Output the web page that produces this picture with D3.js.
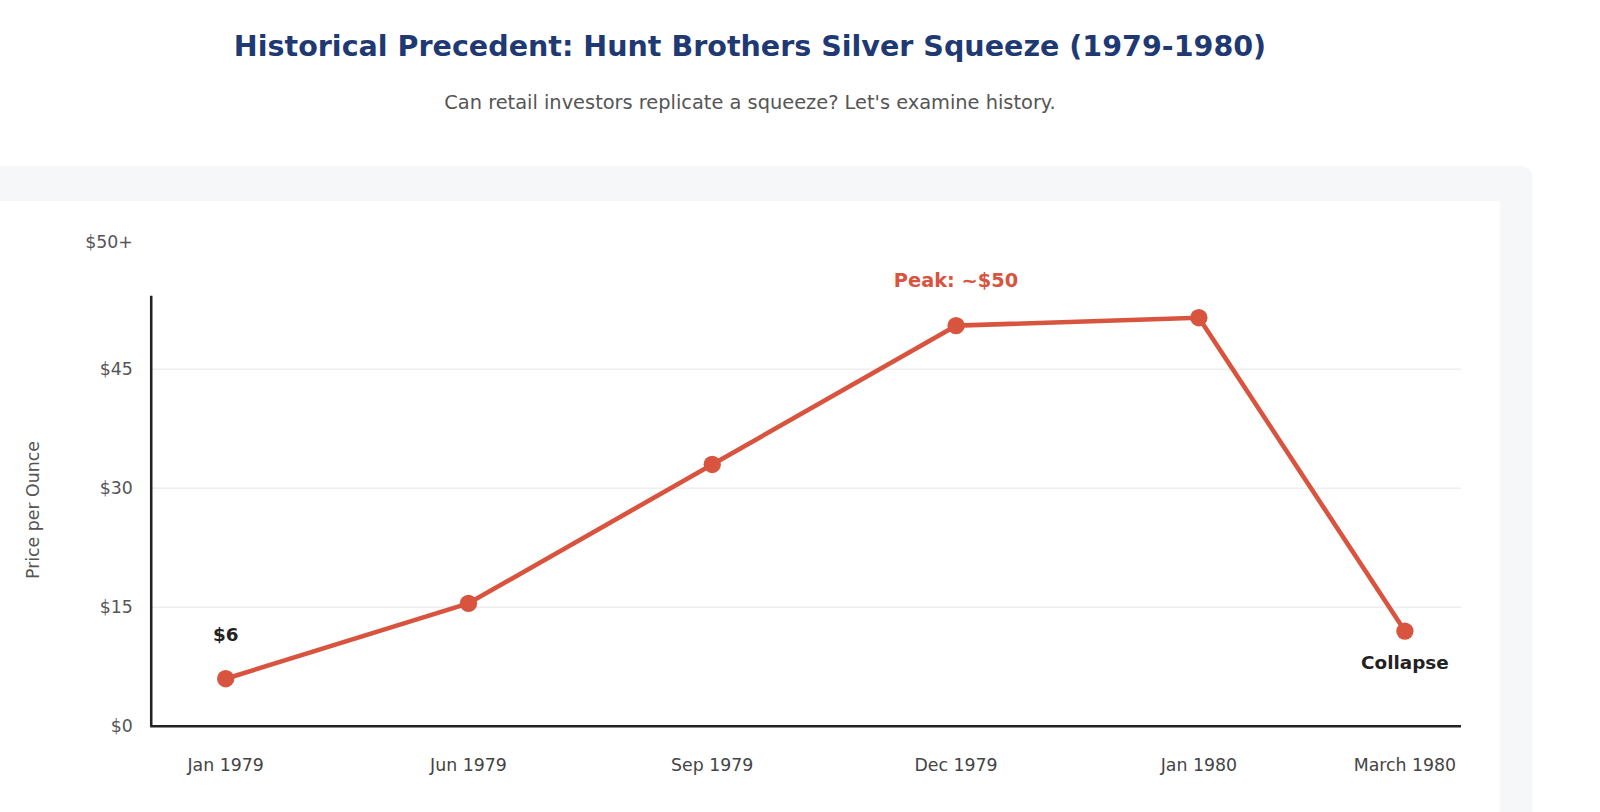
<!DOCTYPE html>
<html><head><meta charset="utf-8">
<script src="https://cdn.jsdelivr.net/npm/d3@7"></script>
<style>body{margin:0;background:#fff;font-family:Verdana,"DejaVu Sans",sans-serif;overflow:hidden}</style>
</head><body><div id="chart"></div>
<script>
// data
const months = ['Jan 1979', 'Jun 1979', 'Sep 1979', 'Dec 1979', 'Jan 1980', 'March 1980'];
const prices = [6, 15.5, 33, 50.5, 51.5, 12];
const yTicks = [0, 15, 30, 45];
const xPositions = [221, 459, 698, 937, 1175, 1377];

const svg = d3.select('#chart').append('svg').attr('width', 1600).attr('height', 812)
  .attr('viewBox', '0 0 1568 796');

svg.append('rect').attr('x', -10).attr('y', 163).attr('width', 1512).attr('height', 700)
  .attr('rx', 10).attr('fill', '#f6f7f9');
svg.append('rect').attr('x', -10).attr('y', 197).attr('width', 1480).attr('height', 700).attr('fill', '#fff');

svg.append('text').attr('x', 735).attr('y', 55).attr('text-anchor', 'middle')
  .attr('font-size', 28).attr('font-weight', 'bold').attr('fill', '#1f3a73')
  .text('Historical Precedent: Hunt Brothers Silver Squeeze (1979-1980)');
svg.append('text').attr('x', 735).attr('y', 107).attr('text-anchor', 'middle')
  .attr('font-size', 19).attr('fill', '#555')
  .text("Can retail investors replicate a squeeze? Let's examine history.");

const x = d3.scaleOrdinal().domain(months).range(xPositions);
const y = d3.scaleLinear().domain([0, 45]).range([712, 362]);

// gridlines
svg.selectAll('.grid').data(yTicks.slice(1)).enter().append('line')
  .attr('x1', 148).attr('x2', 1432).attr('y1', y).attr('y2', y)
  .attr('stroke', '#eee').attr('stroke-width', 1.5);

// axes
svg.append('line').attr('x1', 148).attr('x2', 148).attr('y1', 290).attr('y2', 712)
  .attr('stroke', '#222').attr('stroke-width', 2.5);
svg.append('line').attr('x1', 147).attr('x2', 1432).attr('y1', 712).attr('y2', 712)
  .attr('stroke', '#222').attr('stroke-width', 2.5);

svg.selectAll('.ytick').data(yTicks).enter().append('text')
  .attr('x', 130).attr('y', d => y(d) + 6).attr('text-anchor', 'end')
  .attr('font-size', 17).attr('fill', '#555').text(d => '$' + d);
svg.append('text').attr('x', 130).attr('y', 243).attr('text-anchor', 'end')
  .attr('font-size', 17).attr('fill', '#555').text('$50+');

svg.selectAll('.xtick').data(months).enter().append('text')
  .attr('x', d => x(d)).attr('y', 756).attr('text-anchor', 'middle')
  .attr('font-size', 17).attr('fill', '#444').text(d => d);

svg.append('text').attr('transform', 'translate(38,500) rotate(-90)')
  .attr('text-anchor', 'middle').attr('font-size', 17).attr('fill', '#555').text('Price per Ounce');

const line = d3.line().x((d, i) => x(months[i])).y(d => y(d));
svg.append('path').datum(prices).attr('d', line).attr('fill', 'none')
  .attr('stroke', '#d9543f').attr('stroke-width', 4.5).attr('stroke-linejoin', 'round');
svg.selectAll('.dot').data(prices).enter().append('circle')
  .attr('cx', (d, i) => x(months[i])).attr('cy', d => y(d)).attr('r', 8.5).attr('fill', '#d9543f');

svg.append('text').attr('x', x(months[0])).attr('y', y(prices[0]) - 37).attr('text-anchor', 'middle')
  .attr('font-size', 18).attr('font-weight', 'bold').attr('fill', '#222').text('$6');
svg.append('text').attr('x', x(months[3])).attr('y', y(prices[3]) - 38).attr('text-anchor', 'middle')
  .attr('font-size', 19).attr('font-weight', 'bold').attr('fill', '#d9543f').text('Peak: ~$50');
svg.append('text').attr('x', x(months[5])).attr('y', y(prices[5]) + 37).attr('text-anchor', 'middle')
  .attr('font-size', 18).attr('font-weight', 'bold').attr('fill', '#222').text('Collapse');
</script></body></html>
